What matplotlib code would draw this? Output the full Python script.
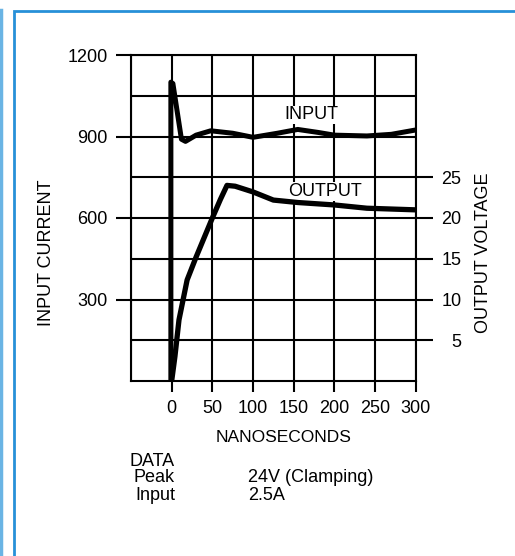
import numpy as np
import matplotlib
matplotlib.use("Agg")
import matplotlib.pyplot as plt
from matplotlib.patches import Rectangle
from matplotlib.lines import Line2D

plt.rcParams['font.family'] = ['Liberation Sans', 'DejaVu Sans']

# input current (left scale) vs time in ns
t_in = [-1, -1, 1.5, 12, 17, 30, 48, 75, 100, 130, 155, 180, 200, 240, 270, 300]
i_in = [0, 1100, 1095, 890, 882, 905, 921, 912, 897, 912, 926, 915, 905, 902, 908, 924]

# output voltage (right scale) vs time in ns
t_out = [0, 4, 9, 19, 30, 40, 50, 60, 68, 78, 100, 125, 155, 200, 240, 300]
v_out = [0, 3, 7.5, 12.4, 15.2, 17.6, 20, 22.3, 24, 23.9, 23.2, 22.2, 21.9, 21.6, 21.2, 21.0]

x_ticks = [0, 50, 100, 150, 200, 250, 300]
left_ticks = [300, 600, 900, 1200]
right_ticks = [5, 10, 15, 20, 25]

W, H = 515, 556
fs = 13
fig = plt.figure(figsize=(W / 100, H / 100), dpi=100)
ax = fig.add_axes([131 / W, 1 - 381 / H, (415.7 - 131) / W, (381 - 55) / H])

lw_grid = 1.5
ax.set_xlim(-50, 300)
ax.set_ylim(0, 1200)
ax.set_xticks(x_ticks)
ax.set_xticks([-50], minor=True)
ax.set_yticks(left_ticks)
ax.set_yticks([150, 450, 750, 1050], minor=True)
ax.grid(True, which='both', color='black', linewidth=lw_grid)
ax.tick_params(which='major', direction='out', width=lw_grid, labelsize=fs, color='black')
ax.tick_params(axis='x', which='major', length=8, pad=6)
ax.tick_params(axis='y', which='major', length=11, pad=6)
ax.tick_params(which='minor', length=0)
for s in ax.spines.values():
    s.set_linewidth(lw_grid)

# output voltage shares the grid: 1 V = 30 units on the left scale
ax2 = ax.twinx()
ax2.set_ylim(0, 40)
ax2.set_yticks(right_ticks)
ax2.tick_params(axis='y', direction='out', length=12, width=lw_grid, pad=21, labelsize=fs)
for lab in ax2.get_yticklabels():
    lab.set_horizontalalignment('right')
for s in ax2.spines.values():
    s.set_visible(False)

ax.plot(t_in, i_in, color='black', linewidth=3.6, solid_joinstyle='round', zorder=5)
ax2.plot(t_out, v_out, color='black', linewidth=3.8, solid_joinstyle='round', zorder=5)

ax.text(172, 980, 'INPUT', ha='center', va='center', fontsize=fs,
        bbox=dict(facecolor='white', edgecolor='none', pad=0.5), zorder=6)
ax.text(188, 698, 'OUTPUT', ha='center', va='center', fontsize=fs,
        bbox=dict(facecolor='white', edgecolor='none', pad=0.5), zorder=6)

fig.text(284 / W, 1 - 437 / H, 'NANOSECONDS', ha='center', va='center', fontsize=12.5)
fig.text(47 / W, 1 - 253 / H, 'INPUT CURRENT', ha='center', va='center', rotation=90, fontsize=fs)
fig.text(483 / W, 1 - 253 / H, 'OUTPUT VOLTAGE', ha='center', va='center', rotation=90, fontsize=fs)

# data block below the chart
fig.text(175 / W, 1 - 461 / H, 'DATA', ha='right', va='center', fontsize=fs)
fig.text(175 / W, 1 - 478 / H, 'Peak', ha='right', va='center', fontsize=fs)
fig.text(175 / W, 1 - 495 / H, 'Input', ha='right', va='center', fontsize=fs)
fig.text(248 / W, 1 - 478 / H, '24V (Clamping)', ha='left', va='center', fontsize=fs)
fig.text(248 / W, 1 - 495 / H, '2.5A', ha='left', va='center', fontsize=fs)

# blue frame of the page
fig.patches.append(Rectangle((14 / W, -0.1), 1.2, 1 - 11 / H + 0.1, transform=fig.transFigure,
                             fill=False, edgecolor='#2790d8', linewidth=2))
fig.lines.append(Line2D([1 / W, 1 / W], [0, 1 - 10 / H], transform=fig.transFigure,
                        color='#6ab4e4', linewidth=2.5))

fig.savefig('out.png', dpi=100)
